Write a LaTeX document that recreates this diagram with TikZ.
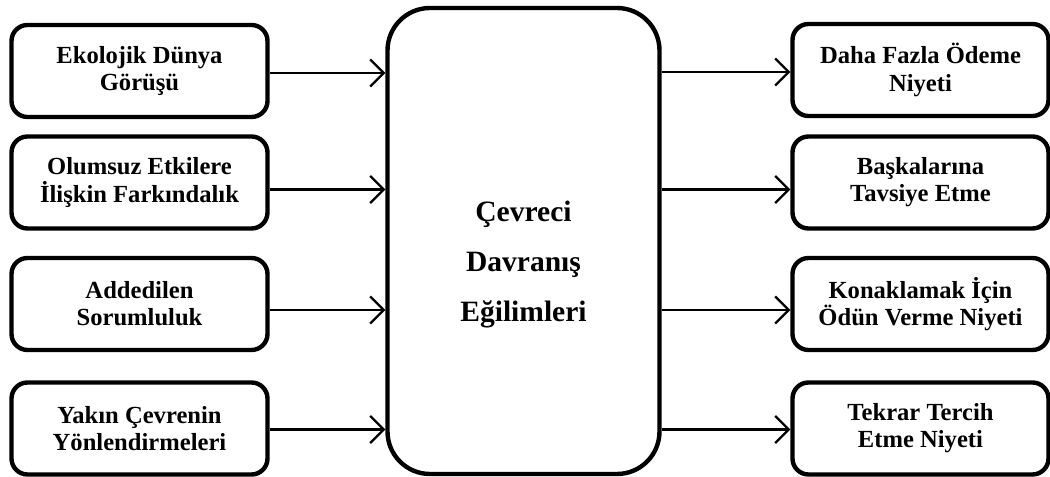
\documentclass[tikz,border=0pt]{standalone}
\usepackage{fontspec}
\setmainfont{Liberation Serif}
\usetikzlibrary{arrows.meta,positioning}
\newcommand{\bxf}{\fontsize{14}{15.5}\selectfont\bfseries}
\newcommand{\bxl}{\fontsize{16.8}{28.5}\selectfont\bfseries}

\begin{document}
\begin{tikzpicture}[x=1cm, y=1cm,
  box/.style={draw=black, line width=2.5pt, rounded corners=0.32cm, fill=white,
    minimum width=5.12cm, minimum height=1.84cm, align=center, inner sep=2pt, font=\bxf},
  arr/.style={line width=1.3pt, -{Straight Barb[length=2.7mm, width=5.4mm, line width=1.3pt]}}]
\useasboundingbox (0,0) rectangle (21,-9.54);
% ---- centre box (text sits a little below its middle)
\node[draw=black, line width=2.5pt, rounded corners=0.85cm, fill=white,
  minimum width=5.44cm, minimum height=9.32cm] (egilim) at (10.47,-4.82) {};
\node[align=center, font=\bxl] (egilimtxt) at ([yshift=-0.47cm]egilim.center)
  {Çevreci\\Davranış\\Eğilimleri};
% ---- inputs (left column)
\node[box] (ekoloji) at (2.79,-1.42) {Ekolojik Dünya\\Görüşü};
\node[box] (farkind) at (2.79,-3.65) {Olumsuz Etkilere\\İlişkin Farkındalık};
\node[box] (sorumlu) at (2.79,-6.08) {Addedilen\\Sorumluluk};
\node[box] (yonlend) at (2.79,-8.57) {Yakın Çevrenin\\Yönlendirmeleri};
% ---- outcomes (right column)
\node[box] (odeme)   at (18.41,-1.40) {Daha Fazla Ödeme\\Niyeti};
\node[box] (tavsiye) at (18.41,-3.65) {Başkalarına\\Tavsiye Etme};
\node[box] (odun)    at (18.41,-6.08) {Konaklamak İçin\\Ödün Verme Niyeti};
\node[box] (tercih)  at (18.41,-8.57) {Tekrar Tercih\\Etme Niyeti};
% ---- connectors
\foreach \n/\d in {ekoloji/0.04,farkind/0.14,sorumlu/0.12,yonlend/0.02}
  \draw[arr] ([yshift=-\d cm]\n.east) -- ([yshift=-\d cm]\n.east -| egilim.west);
\foreach \n/\d in {odeme/0.04,tavsiye/0.14,odun/0.12,tercih/0.02}
  \draw[arr] ([yshift=-\d cm]\n.west -| egilim.east) -- ([yshift=-\d cm]\n.west);
\end{tikzpicture}
\end{document}
